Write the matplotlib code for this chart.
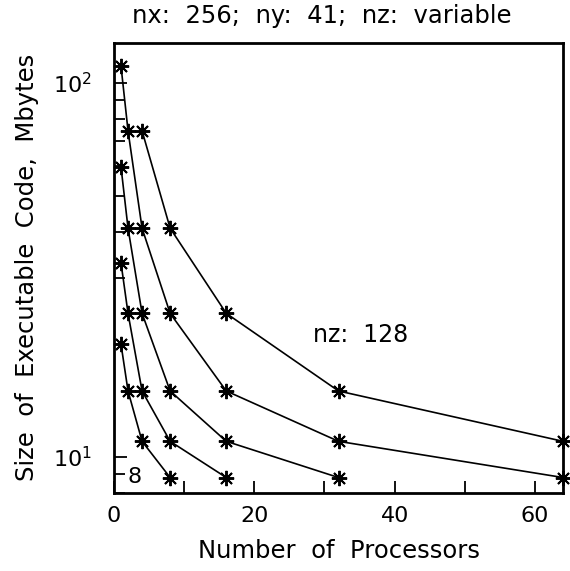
import matplotlib
matplotlib.use("Agg")
import matplotlib.pyplot as plt
from matplotlib.ticker import LogLocator, NullFormatter, FixedLocator

plt.rcParams['font.family'] = ['DejaVu Sans']

# processors and executable size (Mbytes) per nz value
p_128 = [4, 8, 16, 32, 64]
size_128 = [74.5, 40.9, 24.2, 15.0, 11.0]
p_64 = [1, 2, 4, 8, 16, 32, 64]
size_64 = [111, 74.5, 40.9, 24.2, 15.0, 11.0, 8.8]
p_32 = [1, 2, 4, 8, 16, 32]
size_32 = [59.6, 40.9, 24.2, 15.0, 11.0, 8.8]
p_16 = [1, 2, 4, 8, 16]
size_16 = [33.0, 24.2, 15.0, 11.0, 8.8]
p_8 = [1, 2, 4, 8]
size_8 = [20.0, 15.0, 11.0, 8.8]

series = [(p_128, size_128), (p_64, size_64), (p_32, size_32),
          (p_16, size_16), (p_8, size_8)]

W, H = 570, 571
fig = plt.figure(figsize=(W / 100, H / 100), dpi=100)
ax = fig.add_axes([114/W, 78/H, 449/W, 450/H])

for p, s in series:
    ax.plot(p, s, color='black', lw=1.2, marker=(8, 2, 0), markersize=11,
            markeredgewidth=1.4, clip_on=False)

ax.set_yscale('log')
ax.set_xlim(0, 64)
ax.set_ylim(8, 128)

ax.xaxis.set_major_locator(FixedLocator([0, 20, 40, 60]))
ax.xaxis.set_minor_locator(FixedLocator([10, 30, 50]))
ax.yaxis.set_major_locator(LogLocator(base=10))
ax.yaxis.set_minor_locator(LogLocator(base=10, subs=range(2, 10)))
ax.yaxis.set_minor_formatter(NullFormatter())

ax.tick_params(which='both', direction='in', width=1.3, labelsize=16)
ax.tick_params(axis='x', which='both', length=9, pad=9)
ax.tick_params(axis='y', which='major', length=9, pad=16)
ax.tick_params(axis='y', which='minor', length=8)
for sp in ax.spines.values():
    sp.set_linewidth(2)

ax.text(28.4, 21.2, 'nz:  128', fontsize=17, va='center', ha='left')
ax.text(3.0, 8.81, '8', fontsize=16, va='center', ha='center')

fig.text(322/W, 1 - 16/H, 'nx:  256;  ny:  41;  nz:  variable',
         fontsize=17.5, ha='center', va='center')
fig.text(339/W, 1 - 551/H, 'Number  of  Processors',
         fontsize=17.5, ha='center', va='center')
fig.text(27/W, 1 - 267/H, 'Size  of  Executable  Code,  Mbytes',
         fontsize=17.5, ha='center', va='center', rotation=90)

fig.savefig('out.png', dpi=100)
